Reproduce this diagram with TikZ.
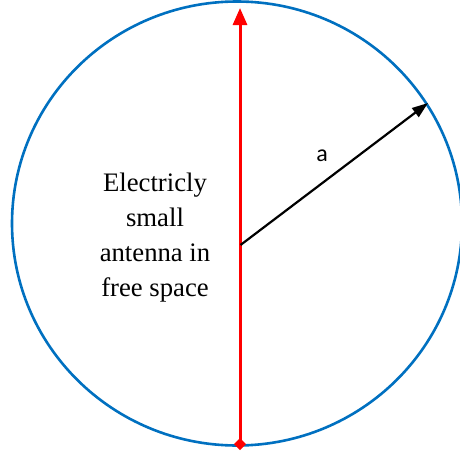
\documentclass[tikz,border=0pt]{standalone}
\usepackage{fontspec}
\setmainfont{Liberation Serif}
\newfontfamily\calib{Carlito}
\usetikzlibrary{arrows.meta}
\definecolor{officeblue}{RGB}{0,112,192}
\definecolor{antred}{RGB}{255,0,0}
\tikzset{
  sphere/.style={draw=officeblue, line width=2.6pt},
  antline/.style={draw=antred, line width=3pt, {Diamond[width=12pt,length=12pt]}-{Triangle[width=14pt,length=17pt]}},
  radius arrow/.style={draw=black, line width=2.2pt, -{Triangle[width=11pt,length=16pt]}},
  caption/.style={align=center, font=\fontsize{26.7}{35}\selectfont, text=black},
  alabel/.style={font=\calib\fontsize{24}{28}\selectfont, text=black}
}
\begin{document}
\begin{tikzpicture}[x=1pt,y=-1pt]
\useasboundingbox (0,0) rectangle (460,455);
\coordinate (c) at (237,223.5);
\draw[sphere] (c) ellipse [x radius=225, y radius=222];
\coordinate (bot) at (240,450);
\coordinate (top) at (240,8);
\coordinate (feed) at (240.5,245);
\coordinate (rim) at (428,103);
\draw[antline] (bot) -- (top);
\draw[radius arrow] (feed) -- (rim);
\node[caption] (txt) at (155,238) {Electricly\\small\\antenna in\\free space};
\node[alabel] (a) at (322,156) {a};
\end{tikzpicture}
\end{document}
